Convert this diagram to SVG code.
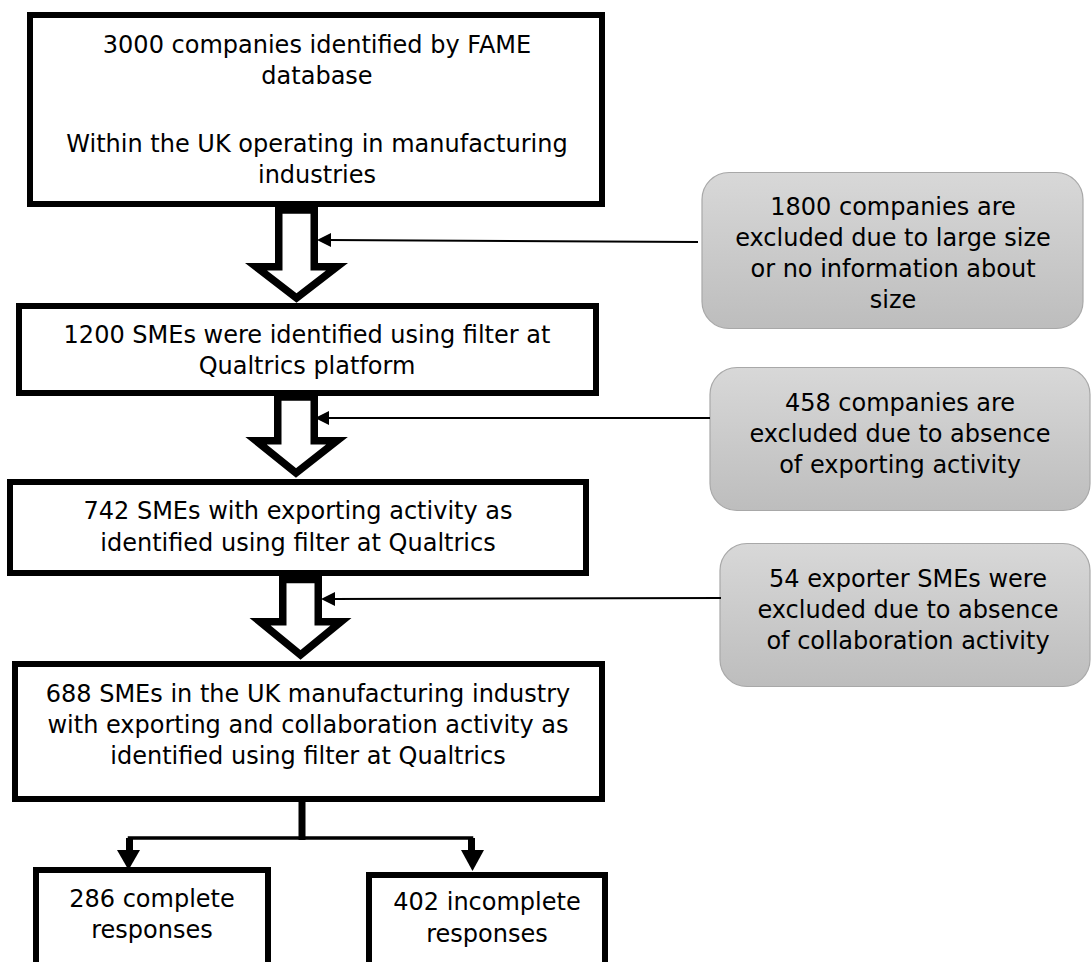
<svg xmlns="http://www.w3.org/2000/svg" width="1091" height="962" viewBox="0 0 1091 962">
<style>
.box{fill:#fff;stroke:#000;stroke-width:6}
.grey{fill:url(#gg);stroke:#a8a8a8;stroke-width:1.2}
.t{font-family:"DejaVu Sans",Verdana,sans-serif;font-size:24px;fill:#000;text-anchor:middle}
.blk{fill:#fff;stroke:#000;stroke-width:7.5;stroke-linejoin:miter;stroke-miterlimit:10}
.thin{stroke:#000;stroke-width:2;fill:none}
.fork{stroke:#000;fill:none}
.head{fill:#000}
</style>
<defs>
<linearGradient id="gg" x1="0" y1="0" x2="0" y2="1">
<stop offset="0" stop-color="#d8d8d8"/>
<stop offset="1" stop-color="#bdbdbd"/>
</linearGradient>
</defs>
<rect width="1091" height="962" fill="#fff"/>
<g id="n1">
<rect class="box" x="30" y="15" width="572" height="189"/>
<text class="t" x="317" y="53">3000 companies identified by FAME</text>
<text class="t" x="317" y="84">database</text>
<text class="t" x="317" y="152">Within the UK operating in manufacturing</text>
<text class="t" x="317" y="183">industries</text>
</g>
<g id="n2">
<rect class="box" x="19" y="306" width="577" height="87"/>
<text class="t" x="307" y="343">1200 SMEs were identified using filter at</text>
<text class="t" x="307" y="374">Qualtrics platform</text>
</g>
<g id="n3">
<rect class="box" x="10" y="482" width="576" height="91"/>
<text class="t" x="298" y="519">742 SMEs with exporting activity as</text>
<text class="t" x="298" y="551">identified using filter at Qualtrics</text>
</g>
<g id="n4">
<rect class="box" x="15" y="664" width="587" height="135"/>
<text class="t" x="308" y="702">688 SMEs in the UK manufacturing industry</text>
<text class="t" x="308" y="733">with exporting and collaboration activity as</text>
<text class="t" x="308" y="764">identified using filter at Qualtrics</text>
</g>
<g id="n5">
<rect class="box" x="36" y="870" width="232" height="130"/>
<text class="t" x="152" y="907">286 complete</text>
<text class="t" x="152" y="938">responses</text>
</g>
<g id="n6">
<rect class="box" x="369" y="875" width="236" height="130"/>
<text class="t" x="487" y="910">402 incomplete</text>
<text class="t" x="487" y="942">responses</text>
</g>
<g id="g1">
<rect class="grey" x="702" y="172.5" width="381" height="156" rx="27"/>
<text class="t" x="893" y="215">1800 companies are</text>
<text class="t" x="893" y="246">excluded due to large size</text>
<text class="t" x="893" y="277">or no information about</text>
<text class="t" x="893" y="308">size</text>
</g>
<g id="g2">
<rect class="grey" x="710" y="367.5" width="380" height="143" rx="27"/>
<text class="t" x="900" y="411">458 companies are</text>
<text class="t" x="900" y="442">excluded due to absence</text>
<text class="t" x="900" y="473">of exporting activity</text>
</g>
<g id="g3">
<rect class="grey" x="720" y="543.5" width="370" height="143" rx="27"/>
<text class="t" x="908" y="587">54 exporter SMEs were</text>
<text class="t" x="908" y="618">excluded due to absence</text>
<text class="t" x="908" y="649">of collaboration activity</text>
</g>
<g id="connectors">
<path class="blk" d="M278.75,210 V266.75 H256 L296.5,298 L337,266.75 H314.25 V210 Z"/>
<path class="blk" d="M277.75,397 V440.75 H256 L296,473 L337,440.75 H314.25 V397 Z"/>
<path class="blk" d="M282.75,579.5 V621.75 H260 L300.5,655 L341,621.75 H318.25 V579.5 Z"/>
<line class="thin" x1="698" y1="242" x2="328" y2="240"/>
<polygon class="head" points="317,240 331,233 331,247"/>
<line class="thin" x1="710" y1="418" x2="326" y2="418"/>
<polygon class="head" points="315,418 329,411 329,425"/>
<line class="thin" x1="721" y1="598" x2="332" y2="599"/>
<polygon class="head" points="321,599 335,592 335,606"/>
<line class="fork" stroke-width="7" x1="302" y1="802" x2="302" y2="840"/>
<polyline class="fork" stroke-width="3.5" points="129.5,852 129.5,838 471.5,838 471.5,852"/>
<line class="fork" stroke-width="7" x1="129.5" y1="838" x2="129.5" y2="852"/>
<line class="fork" stroke-width="7" x1="471.5" y1="838" x2="471.5" y2="852"/>
<polygon class="head" points="117,850 140,850 128.5,870"/>
<polygon class="head" points="461,850 484,850 472.5,871"/>
</g>
</svg>
